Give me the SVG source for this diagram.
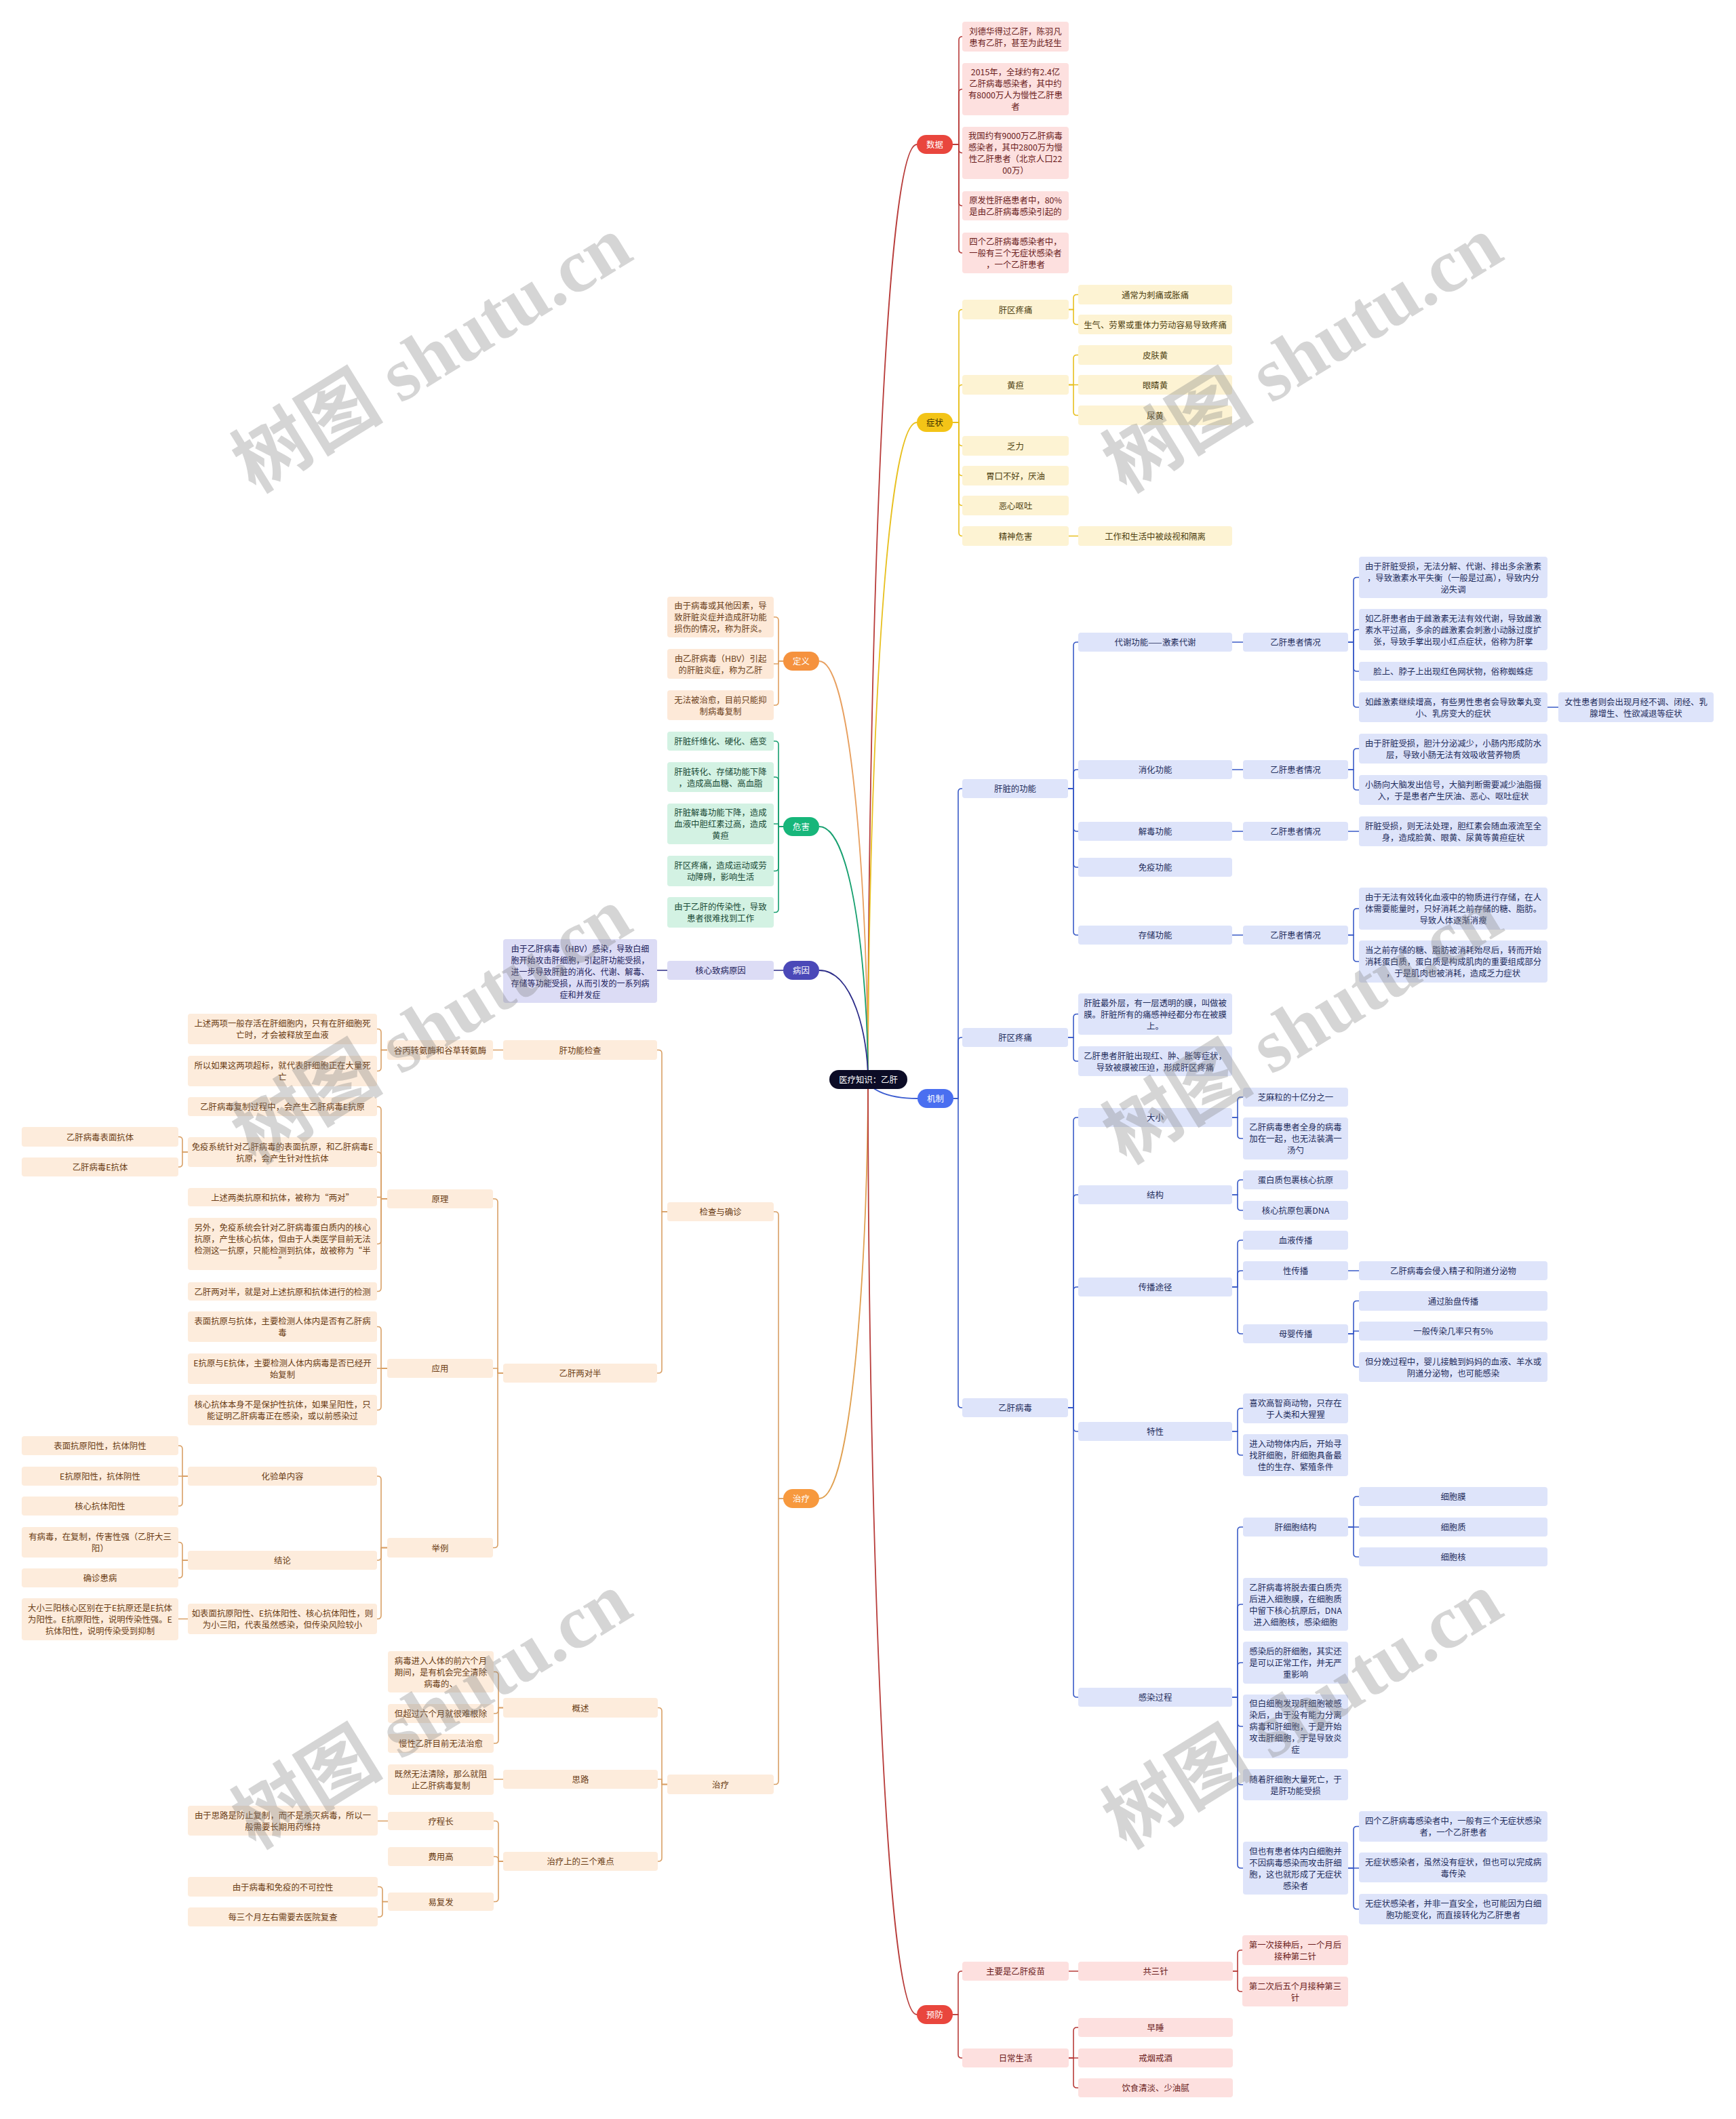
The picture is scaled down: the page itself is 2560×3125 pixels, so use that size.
<svg xmlns="http://www.w3.org/2000/svg" width="2560" height="3125" viewBox="0 0 2560 3125">
<style>
text{font-family:"Noto Sans CJK SC","Liberation Sans",sans-serif;font-size:12.4px;text-anchor:middle;dominant-baseline:central}
.kr rect{fill:#fde0df}.kr text{fill:#6a1c1c}
.ky rect{fill:#fdf3d3}.ky text{fill:#4d3f10}
.ko rect{fill:#fde9d8}.ko text{fill:#6b3f1a}
.kg rect{fill:#d3f2e3}.kg text{fill:#1a4a36}
.kp rect{fill:#dcdcf5}.kp text{fill:#20205a}
.kb rect{fill:#dee4fa}.kb text{fill:#1f2d5c}
.kt rect{fill:#fdecdc}.kt text{fill:#6a3c14}
.l1 text{fill:#fff}
.cx path{fill:none;stroke-width:1.6;stroke-linecap:round}
.rc path{fill:none;stroke-width:1.8}
.wm{font-family:"Liberation Serif","Noto Sans CJK SC",serif;font-size:112px;font-weight:bold;fill:#808080;fill-opacity:.33;text-anchor:start;dominant-baseline:auto}
</style>
<rect width="2560" height="3125" fill="#fff"/>

<!-- connectors -->
<g id="connectors">
<g class="rc">
<path stroke="#b83c3a" d="M1280 1592C1280 1040 1302 213 1352 213"/>
<path stroke="#e8c020" d="M1280 1592C1280 1204 1302 623 1352 623"/>
<path stroke="#e8a060" d="M1280 1592C1280 1345 1258 975 1208 975"/>
<path stroke="#18a070" d="M1280 1592C1280 1443 1258 1219 1208 1219"/>
<path stroke="#2c2c88" d="M1280 1592C1280 1528 1258 1431 1208 1431"/>
<path stroke="#3a5bd0" d="M1280 1592C1280 1603 1302 1620 1353 1620"/>
<path stroke="#e0a050" d="M1280 1592C1280 1839 1258 2210 1208 2210"/>
<path stroke="#b83c3a" d="M1280 1592C1280 2144 1302 2971 1352 2971"/>
</g>
<g class="cx" stroke="#b83c3a">
<path d="M1405 213H1414V59Q1414 54 1419 54"/>
<path d="M1405 213H1414V136.5Q1414 131.5 1419 131.5"/>
<path d="M1405 213H1414V220.5Q1414 225.5 1419 225.5"/>
<path d="M1405 213H1414V298.5Q1414 303.5 1419 303.5"/>
<path d="M1405 213H1414V368Q1414 373 1419 373"/>
<path d="M1405 2971H1413V2912Q1413 2907 1418 2907H1419"/>
<path d="M1405 2971H1413V3030Q1413 3035 1418 3035H1419"/>
<path d="M1576 2907H1590"/>
<path d="M1818 2907H1825V2881Q1825 2876 1830 2876H1832"/>
<path d="M1818 2907H1825V2932Q1825 2937 1830 2937H1832"/>
<path d="M1576 3035H1583V2995Q1583 2990 1588 2990H1590"/>
<path d="M1576 3035H1590"/>
<path d="M1576 3035H1583V3074Q1583 3079 1588 3079H1590"/>
</g>
<g class="cx" stroke="#e8c020">
<path d="M1405 623H1414V461.5Q1414 456.5 1419 456.5"/>
<path d="M1405 623H1414V572.5Q1414 567.5 1419 567.5"/>
<path d="M1405 623H1414V652.5Q1414 657.5 1419 657.5"/>
<path d="M1405 623H1414V696.5Q1414 701.5 1419 701.5"/>
<path d="M1405 623H1414V740.5Q1414 745.5 1419 745.5"/>
<path d="M1405 623H1414V785.5Q1414 790.5 1419 790.5"/>
<path d="M1576 456.5H1583V439.5Q1583 434.5 1588 434.5H1590"/>
<path d="M1576 456.5H1583V473.5Q1583 478.5 1588 478.5H1590"/>
<path d="M1576 567.5H1583V528.5Q1583 523.5 1588 523.5H1590"/>
<path d="M1576 567.5H1590"/>
<path d="M1576 567.5H1583V607.5Q1583 612.5 1588 612.5H1590"/>
<path d="M1576 790.5H1590"/>
</g>
<g class="cx" stroke="#3a5bc7">
<path d="M1406 1620H1413V1168Q1413 1163 1418 1163H1419"/>
<path d="M1406 1620H1413V1535Q1413 1530 1418 1530H1419"/>
<path d="M1406 1620H1413V2071Q1413 2076 1418 2076H1419"/>
<path d="M1575 1163H1583V952Q1583 947 1588 947H1590"/>
<path d="M1575 1163H1583V1140Q1583 1135 1588 1135H1590"/>
<path d="M1575 1163H1583V1221Q1583 1226 1588 1226H1590"/>
<path d="M1575 1163H1583V1274Q1583 1279 1588 1279H1590"/>
<path d="M1575 1163H1583V1374Q1583 1379 1588 1379H1590"/>
<path d="M1817 947H1833"/><path d="M1817 1135H1833"/><path d="M1817 1226H1833"/><path d="M1817 1379H1833"/>
<path d="M1988 947H1996V856.5Q1996 851.5 2001 851.5H2004"/>
<path d="M1988 947H1996V933.5Q1996 928.5 2001 928.5H2004"/>
<path d="M1988 947H1996V985Q1996 990 2001 990H2004"/>
<path d="M1988 947H1996V1038Q1996 1043 2001 1043H2004"/>
<path d="M2282 1043H2298"/>
<path d="M1988 1135H1996V1109Q1996 1104 2001 1104H2004"/>
<path d="M1988 1135H1996V1160Q1996 1165 2001 1165H2004"/>
<path d="M1988 1226H2004"/>
<path d="M1988 1379H1996V1345Q1996 1340 2001 1340H2004"/>
<path d="M1988 1379H1996V1413Q1996 1418 2001 1418H2004"/>
<path d="M1575 1530H1583V1500.5Q1583 1495.5 1588 1495.5H1590"/>
<path d="M1575 1530H1583V1560Q1583 1565 1588 1565H1590"/>
<path d="M1575 2076H1583V1653Q1583 1648 1588 1648H1590"/>
<path d="M1575 2076H1583V1767Q1583 1762 1588 1762H1590"/>
<path d="M1575 2076H1583V1903Q1583 1898 1588 1898H1590"/>
<path d="M1575 2076H1583V2106Q1583 2111 1588 2111H1590"/>
<path d="M1575 2076H1583V2498Q1583 2503 1588 2503H1590"/>
<path d="M1817 1648H1825V1623Q1825 1618 1830 1618H1833"/>
<path d="M1817 1648H1825V1674Q1825 1679 1830 1679H1833"/>
<path d="M1817 1762H1825V1745Q1825 1740 1830 1740H1833"/>
<path d="M1817 1762H1825V1780Q1825 1785 1830 1785H1833"/>
<path d="M1817 1898H1825V1834Q1825 1829 1830 1829H1833"/>
<path d="M1817 1898H1825V1879Q1825 1874 1830 1874H1833"/>
<path d="M1817 1898H1825V1962Q1825 1967 1830 1967H1833"/>
<path d="M1988 1874H2004"/>
<path d="M1988 1967H1996V1923.5Q1996 1918.5 2001 1918.5H2004"/>
<path d="M1988 1967H1996V1963H2004"/>
<path d="M1988 1967H1996V2011Q1996 2016 2001 2016H2004"/>
<path d="M1817 2111H1825V2082Q1825 2077 1830 2077H1833"/>
<path d="M1817 2111H1825V2141Q1825 2146 1830 2146H1833"/>
<path d="M1817 2503H1825V2257Q1825 2252 1830 2252H1833"/>
<path d="M1817 2503H1825V2371Q1825 2366 1830 2366H1833"/>
<path d="M1817 2503H1825V2457Q1825 2452 1830 2452H1833"/>
<path d="M1817 2503H1825V2541Q1825 2546 1830 2546H1833"/>
<path d="M1817 2503H1825V2627Q1825 2632 1830 2632H1833"/>
<path d="M1817 2503H1825V2750Q1825 2755 1830 2755H1833"/>
<path d="M1988 2252H1996V2212Q1996 2207 2001 2207H2004"/>
<path d="M1988 2252H2004"/>
<path d="M1988 2252H1996V2291Q1996 2296 2001 2296H2004"/>
<path d="M1988 2755H1996V2698.5Q1996 2693.5 2001 2693.5H2004"/>
<path d="M1988 2755H2004"/>
<path d="M1988 2755H1996V2810.5Q1996 2815.5 2001 2815.5H2004"/>
</g>
<g class="cx" stroke="#e0a060">
<path d="M1155 975H1148V915Q1148 910 1143 910H1141"/>
<path d="M1155 975H1148V979H1141"/>
<path d="M1155 975H1148V1035Q1148 1040 1143 1040H1141"/>
</g>
<g class="cx" stroke="#18a070">
<path d="M1155 1219H1148V1098Q1148 1093 1143 1093H1141"/>
<path d="M1155 1219H1148V1151Q1148 1146 1143 1146H1141"/>
<path d="M1155 1219H1148V1215H1141"/>
<path d="M1155 1219H1148V1279.5Q1148 1284.5 1143 1284.5H1141"/>
<path d="M1155 1219H1148V1340.5Q1148 1345.5 1143 1345.5H1141"/>
</g>
<g class="cx" stroke="#2c2c88">
<path d="M1155 1431H1141"/><path d="M984 1431H969"/>
</g>
<g class="cx" stroke="#d9a066">
<path d="M1155 2210H1148V1792Q1148 1787 1143 1787H1141"/>
<path d="M1155 2210H1148V2626.5Q1148 2631.5 1143 2631.5H1141"/>
<path d="M984 1787H976V1553.5Q976 1548.5 971 1548.5H969"/>
<path d="M984 1787H976V2020Q976 2025 971 2025H969"/>
<path d="M742 1548.5H727"/>
<path d="M571 1548.5H562V1522.5Q562 1517.5 557 1517.5H556"/>
<path d="M571 1548.5H562V1574.5Q562 1579.5 557 1579.5H556"/>
<path d="M742 2025H734V1773Q734 1768 729 1768H727"/>
<path d="M742 2025H734V2018H727"/>
<path d="M742 2025H734V2277.5Q734 2282.5 729 2282.5H727"/>
<path d="M571 1768H562V1637Q562 1632 557 1632H556"/>
<path d="M571 1768H562V1704Q562 1699 557 1699H556"/>
<path d="M571 1768H562V1765.5H556"/>
<path d="M571 1768H562V1829.5Q562 1834.5 557 1834.5H556"/>
<path d="M571 1768H562V1899.5Q562 1904.5 557 1904.5H556"/>
<path d="M277 1699H269V1681.5Q269 1676.5 264 1676.5H263"/>
<path d="M277 1699H269V1716Q269 1721 264 1721H263"/>
<path d="M571 2018H562V1961.5Q562 1956.5 557 1956.5H556"/>
<path d="M571 2018H556"/>
<path d="M571 2018H562V2074.5Q562 2079.5 557 2079.5H556"/>
<path d="M571 2282.5H562V2182Q562 2177 557 2177H556"/>
<path d="M571 2282.5H562V2296Q562 2301 557 2301H556"/>
<path d="M571 2282.5H562V2382.5Q562 2387.5 557 2387.5H556"/>
<path d="M277 2177H269V2137Q269 2132 264 2132H263"/>
<path d="M277 2177H263"/>
<path d="M277 2177H269V2216Q269 2221 264 2221H263"/>
<path d="M277 2301H269V2279.5Q269 2274.5 264 2274.5H263"/>
<path d="M277 2301H269V2322Q269 2327 264 2327H263"/>
<path d="M277 2387.5H263"/>
<path d="M984 2631.5H976V2523.5Q976 2518.5 971 2518.5H970"/>
<path d="M984 2631.5H976V2624H970"/>
<path d="M984 2631.5H976V2740Q976 2745 971 2745H970"/>
<path d="M742 2518.5H735V2470.5Q735 2465.5 730 2465.5H728"/>
<path d="M742 2518.5H735V2522Q735 2527 730 2527H728"/>
<path d="M742 2518.5H735V2566Q735 2571 730 2571H728"/>
<path d="M742 2624H728"/>
<path d="M742 2745H735V2690.5Q735 2685.5 730 2685.5H728"/>
<path d="M742 2745H735V2743Q735 2738 730 2738H728"/>
<path d="M742 2745H735V2799.5Q735 2804.5 730 2804.5H728"/>
<path d="M572 2685.5H557"/>
<path d="M572 2804.5H564V2787.5Q564 2782.5 559 2782.5H557"/>
<path d="M572 2804.5H564V2822Q564 2827 559 2827H557"/>
</g>
</g>

<!-- root -->
<g id="n-root"><rect x="1223" y="1578" width="115" height="28" rx="14" fill="#0c0c26"/><text x="1280.5" y="1592" fill="#fff">医疗知识：乙肝</text></g>

<!-- level 1 -->
<g id="n-shuju" class="l1"><rect x="1352" y="199" width="53" height="28" rx="14" fill="#e9463d"/><text x="1378.5" y="213">数据</text></g>
<g id="n-zhengzhuang"><rect x="1352" y="609" width="53" height="28" rx="14" fill="#f3c417"/><text x="1378.5" y="623" fill="#3a2e00">症状</text></g>
<g id="n-dingyi" class="l1"><rect x="1155" y="961" width="53" height="28" rx="14" fill="#f5923e"/><text x="1181.5" y="975">定义</text></g>
<g id="n-weihai" class="l1"><rect x="1155" y="1205" width="53" height="28" rx="14" fill="#17b67a"/><text x="1181.5" y="1219">危害</text></g>
<g id="n-bingyin" class="l1"><rect x="1155" y="1417" width="53" height="28" rx="14" fill="#4b49b8"/><text x="1181.5" y="1431">病因</text></g>
<g id="n-jizhi" class="l1"><rect x="1353" y="1606" width="53" height="28" rx="14" fill="#4a6ff0"/><text x="1379.5" y="1620">机制</text></g>
<g id="n-zhiliao" class="l1"><rect x="1155" y="2196" width="53" height="28" rx="14" fill="#f7993e"/><text x="1181.5" y="2210">治疗</text></g>
<g id="n-yufang" class="l1"><rect x="1352" y="2957" width="53" height="28" rx="14" fill="#e9463d"/><text x="1378.5" y="2971">预防</text></g>

<!-- 数据 -->
<g id="n-d1" class="kr"><rect x="1419" y="32" width="157" height="44" rx="4"/><text><tspan x="1497.5" y="45.5">刘德华得过乙肝，陈羽凡</tspan><tspan x="1497.5" y="62.5">患有乙肝，甚至为此轻生</tspan></text></g>
<g id="n-d2" class="kr"><rect x="1419" y="93" width="157" height="77" rx="4"/><text><tspan x="1497.5" y="106">2015年，全球约有2.4亿</tspan><tspan x="1497.5" y="123">乙肝病毒感染者，其中约</tspan><tspan x="1497.5" y="140">有8000万人为慢性乙肝患</tspan><tspan x="1497.5" y="157">者</tspan></text></g>
<g id="n-d3" class="kr"><rect x="1419" y="187" width="157" height="77" rx="4"/><text><tspan x="1497.5" y="200">我国约有9000万乙肝病毒</tspan><tspan x="1497.5" y="217">感染者，其中2800万为慢</tspan><tspan x="1497.5" y="234">性乙肝患者（北京人口22</tspan><tspan x="1497.5" y="251">00万）</tspan></text></g>
<g id="n-d4" class="kr"><rect x="1419" y="282" width="157" height="43" rx="4"/><text><tspan x="1497.5" y="295">原发性肝癌患者中，80%</tspan><tspan x="1497.5" y="312">是由乙肝病毒感染引起的</tspan></text></g>
<g id="n-d5" class="kr"><rect x="1419" y="343" width="157" height="60" rx="4"/><text><tspan x="1497.5" y="356">四个乙肝病毒感染者中，</tspan><tspan x="1497.5" y="373">一般有三个无症状感染者</tspan><tspan x="1497.5" y="390">，一个乙肝患者</tspan></text></g>

<!-- 症状 -->
<g id="n-s1" class="ky"><rect x="1419" y="442" width="157" height="29" rx="4"/><text x="1497.5" y="456.5">肝区疼痛</text></g>
<g id="n-s2" class="ky"><rect x="1419" y="553" width="157" height="29" rx="4"/><text x="1497.5" y="567.5">黄疸</text></g>
<g id="n-s3" class="ky"><rect x="1419" y="643" width="157" height="29" rx="4"/><text x="1497.5" y="657.5">乏力</text></g>
<g id="n-s4" class="ky"><rect x="1419" y="687" width="157" height="29" rx="4"/><text x="1497.5" y="701.5">胃口不好，厌油</text></g>
<g id="n-s5" class="ky"><rect x="1419" y="731" width="157" height="29" rx="4"/><text x="1497.5" y="745.5">恶心呕吐</text></g>
<g id="n-s6" class="ky"><rect x="1419" y="776" width="157" height="29" rx="4"/><text x="1497.5" y="790.5">精神危害</text></g>
<g id="n-s1a" class="ky"><rect x="1590" y="420" width="227" height="29" rx="4"/><text x="1703.5" y="434.5">通常为刺痛或胀痛</text></g>
<g id="n-s1b" class="ky"><rect x="1590" y="464" width="227" height="29" rx="4"/><text x="1703.5" y="478.5">生气、劳累或重体力劳动容易导致疼痛</text></g>
<g id="n-s2a" class="ky"><rect x="1590" y="509" width="227" height="29" rx="4"/><text x="1703.5" y="523.5">皮肤黄</text></g>
<g id="n-s2b" class="ky"><rect x="1590" y="553" width="227" height="29" rx="4"/><text x="1703.5" y="567.5">眼睛黄</text></g>
<g id="n-s2c" class="ky"><rect x="1590" y="598" width="227" height="29" rx="4"/><text x="1703.5" y="612.5">尿黄</text></g>
<g id="n-s6a" class="ky"><rect x="1590" y="776" width="227" height="29" rx="4"/><text x="1703.5" y="790.5">工作和生活中被歧视和隔离</text></g>

<!-- 定义 -->
<g id="n-dy1" class="ko"><rect x="984" y="880" width="157" height="60" rx="4"/><text><tspan x="1062.5" y="893">由于病毒或其他因素，导</tspan><tspan x="1062.5" y="910">致肝脏炎症并造成肝功能</tspan><tspan x="1062.5" y="927">损伤的情况，称为肝炎。</tspan></text></g>
<g id="n-dy2" class="ko"><rect x="984" y="957" width="157" height="44" rx="4"/><text><tspan x="1062.5" y="970.5">由乙肝病毒（HBV）引起</tspan><tspan x="1062.5" y="987.5">的肝脏炎症，称为乙肝</tspan></text></g>
<g id="n-dy3" class="ko"><rect x="984" y="1018" width="157" height="44" rx="4"/><text><tspan x="1062.5" y="1031.5">无法被治愈，目前只能抑</tspan><tspan x="1062.5" y="1048.5">制病毒复制</tspan></text></g>

<!-- 危害 -->
<g id="n-wh1" class="kg"><rect x="984" y="1079" width="157" height="28" rx="4"/><text x="1062.5" y="1093">肝脏纤维化、硬化、癌变</text></g>
<g id="n-wh2" class="kg"><rect x="984" y="1124" width="157" height="44" rx="4"/><text><tspan x="1062.5" y="1137.5">肝脏转化、存储功能下降</tspan><tspan x="1062.5" y="1154.5">，造成高血糖、高血脂</tspan></text></g>
<g id="n-wh3" class="kg"><rect x="984" y="1185" width="157" height="60" rx="4"/><text><tspan x="1062.5" y="1198">肝脏解毒功能下降，造成</tspan><tspan x="1062.5" y="1215">血液中胆红素过高，造成</tspan><tspan x="1062.5" y="1232">黄疸</tspan></text></g>
<g id="n-wh4" class="kg"><rect x="984" y="1262" width="157" height="45" rx="4"/><text><tspan x="1062.5" y="1276">肝区疼痛，造成运动或劳</tspan><tspan x="1062.5" y="1293">动障碍，影响生活</tspan></text></g>
<g id="n-wh5" class="kg"><rect x="984" y="1323" width="157" height="45" rx="4"/><text><tspan x="1062.5" y="1337">由于乙肝的传染性，导致</tspan><tspan x="1062.5" y="1354">患者很难找到工作</tspan></text></g>

<!-- 病因 -->
<g id="n-by1" class="kp"><rect x="984" y="1417" width="157" height="28" rx="4"/><text x="1062.5" y="1431">核心致病原因</text></g>
<g id="n-by2" class="kp"><rect x="742" y="1385" width="227" height="94" rx="4"/><text style="font-size:12px"><tspan x="855.5" y="1398">由于乙肝病毒（HBV）感染，导致白细</tspan><tspan x="855.5" y="1415">胞开始攻击肝细胞，引起肝功能受损，</tspan><tspan x="855.5" y="1432">进一步导致肝脏的消化、代谢、解毒、</tspan><tspan x="855.5" y="1449">存储等功能受损，从而引发的一系列病</tspan><tspan x="855.5" y="1466">症和并发症</tspan></text></g>

<!-- 机制 -->
<g id="n-m1" class="kb"><rect x="1419" y="1149" width="156" height="28" rx="4"/><text x="1497" y="1163">肝脏的功能</text></g>
<g id="n-m2" class="kb"><rect x="1419" y="1516" width="156" height="28" rx="4"/><text x="1497" y="1530">肝区疼痛</text></g>
<g id="n-m3" class="kb"><rect x="1419" y="2062" width="156" height="28" rx="4"/><text x="1497" y="2076">乙肝病毒</text></g>
<g id="n-m1a" class="kb"><rect x="1590" y="933" width="227" height="28" rx="4"/><text x="1703.5" y="947">代谢功能——激素代谢</text></g>
<g id="n-m1b" class="kb"><rect x="1590" y="1121" width="227" height="28" rx="4"/><text x="1703.5" y="1135">消化功能</text></g>
<g id="n-m1c" class="kb"><rect x="1590" y="1212" width="227" height="28" rx="4"/><text x="1703.5" y="1226">解毒功能</text></g>
<g id="n-m1d" class="kb"><rect x="1590" y="1265" width="227" height="28" rx="4"/><text x="1703.5" y="1279">免疫功能</text></g>
<g id="n-m1e" class="kb"><rect x="1590" y="1365" width="227" height="28" rx="4"/><text x="1703.5" y="1379">存储功能</text></g>
<g id="n-m1a1" class="kb"><rect x="1833" y="933" width="155" height="28" rx="4"/><text x="1910.5" y="947">乙肝患者情况</text></g>
<g id="n-m1b1" class="kb"><rect x="1833" y="1121" width="155" height="28" rx="4"/><text x="1910.5" y="1135">乙肝患者情况</text></g>
<g id="n-m1c1" class="kb"><rect x="1833" y="1212" width="155" height="28" rx="4"/><text x="1910.5" y="1226">乙肝患者情况</text></g>
<g id="n-m1e1" class="kb"><rect x="1833" y="1365" width="155" height="28" rx="4"/><text x="1910.5" y="1379">乙肝患者情况</text></g>
<g id="n-m1a1a" class="kb"><rect x="2004" y="821" width="278" height="61" rx="4"/><text><tspan x="2143" y="834.5">由于肝脏受损，无法分解、代谢、排出多余激素</tspan><tspan x="2143" y="851.5">，导致激素水平失衡（一般是过高），导致内分</tspan><tspan x="2143" y="868.5">泌失调</tspan></text></g>
<g id="n-m1a1b" class="kb"><rect x="2004" y="898" width="278" height="61" rx="4"/><text><tspan x="2143" y="911.5">如乙肝患者由于雌激素无法有效代谢，导致雌激</tspan><tspan x="2143" y="928.5">素水平过高，多余的雌激素会刺激小动脉过度扩</tspan><tspan x="2143" y="945.5">张，导致手掌出现小红点症状，俗称为肝掌</tspan></text></g>
<g id="n-m1a1c" class="kb"><rect x="2004" y="976" width="278" height="28" rx="4"/><text x="2143" y="990">脸上、脖子上出现红色网状物，俗称蜘蛛痣</text></g>
<g id="n-m1a1d" class="kb"><rect x="2004" y="1021" width="278" height="44" rx="4"/><text><tspan x="2143" y="1034.5">如雌激素继续增高，有些男性患者会导致睾丸变</tspan><tspan x="2143" y="1051.5">小、乳房变大的症状</tspan></text></g>
<g id="n-m1a1e" class="kb"><rect x="2298" y="1021" width="229" height="44" rx="4"/><text><tspan x="2412.5" y="1034.5">女性患者则会出现月经不调、闭经、乳</tspan><tspan x="2412.5" y="1051.5">腺增生、性欲减退等症状</tspan></text></g>
<g id="n-m1b1a" class="kb"><rect x="2004" y="1082" width="278" height="44" rx="4"/><text><tspan x="2143" y="1095.5">由于肝脏受损，胆汁分泌减少，小肠内形成防水</tspan><tspan x="2143" y="1112.5">层，导致小肠无法有效吸收营养物质</tspan></text></g>
<g id="n-m1b1b" class="kb"><rect x="2004" y="1143" width="278" height="44" rx="4"/><text><tspan x="2143" y="1156.5">小肠向大脑发出信号，大脑判断需要减少油脂摄</tspan><tspan x="2143" y="1173.5">入，于是患者产生厌油、恶心、呕吐症状</tspan></text></g>
<g id="n-m1c1a" class="kb"><rect x="2004" y="1204" width="278" height="44" rx="4"/><text><tspan x="2143" y="1217.5">肝脏受损，则无法处理，胆红素会随血液流至全</tspan><tspan x="2143" y="1234.5">身，造成脸黄、眼黄、尿黄等黄疸症状</tspan></text></g>
<g id="n-m1e1a" class="kb"><rect x="2004" y="1309" width="278" height="62" rx="4"/><text><tspan x="2143" y="1323">由于无法有效转化血液中的物质进行存储，在人</tspan><tspan x="2143" y="1340">体需要能量时，只好消耗之前存储的糖、脂肪。</tspan><tspan x="2143" y="1357">导致人体逐渐消瘦</tspan></text></g>
<g id="n-m1e1b" class="kb"><rect x="2004" y="1387" width="278" height="62" rx="4"/><text><tspan x="2143" y="1401">当之前存储的糖、脂肪被消耗殆尽后，转而开始</tspan><tspan x="2143" y="1418">消耗蛋白质，蛋白质是构成肌肉的重要组成部分</tspan><tspan x="2143" y="1435">，于是肌肉也被消耗，造成乏力症状</tspan></text></g>
<g id="n-m2a" class="kb"><rect x="1590" y="1465" width="227" height="61" rx="4"/><text><tspan x="1703.5" y="1478.5">肝脏最外层，有一层透明的膜，叫做被</tspan><tspan x="1703.5" y="1495.5">膜。肝脏所有的痛感神经都分布在被膜</tspan><tspan x="1703.5" y="1512.5">上。</tspan></text></g>
<g id="n-m2b" class="kb"><rect x="1590" y="1543" width="227" height="44" rx="4"/><text><tspan x="1703.5" y="1556.5">乙肝患者肝脏出现红、肿、胀等症状，</tspan><tspan x="1703.5" y="1573.5">导致被膜被压迫，形成肝区疼痛</tspan></text></g>
<g id="n-m3a" class="kb"><rect x="1590" y="1634" width="227" height="28" rx="4"/><text x="1703.5" y="1648">大小</text></g>
<g id="n-m3b" class="kb"><rect x="1590" y="1748" width="227" height="28" rx="4"/><text x="1703.5" y="1762">结构</text></g>
<g id="n-m3c" class="kb"><rect x="1590" y="1884" width="227" height="28" rx="4"/><text x="1703.5" y="1898">传播途径</text></g>
<g id="n-m3d" class="kb"><rect x="1590" y="2097" width="227" height="28" rx="4"/><text x="1703.5" y="2111">特性</text></g>
<g id="n-m3e" class="kb"><rect x="1590" y="2489" width="227" height="28" rx="4"/><text x="1703.5" y="2503">感染过程</text></g>
<g id="n-m3a1" class="kb"><rect x="1833" y="1604" width="155" height="28" rx="4"/><text x="1910.5" y="1618">芝麻粒的十亿分之一</text></g>
<g id="n-m3a2" class="kb"><rect x="1833" y="1648" width="155" height="62" rx="4"/><text><tspan x="1910.5" y="1662">乙肝病毒患者全身的病毒</tspan><tspan x="1910.5" y="1679">加在一起，也无法装满一</tspan><tspan x="1910.5" y="1696">汤勺</tspan></text></g>
<g id="n-m3b1" class="kb"><rect x="1833" y="1726" width="155" height="28" rx="4"/><text x="1910.5" y="1740">蛋白质包裹核心抗原</text></g>
<g id="n-m3b2" class="kb"><rect x="1833" y="1771" width="155" height="28" rx="4"/><text x="1910.5" y="1785">核心抗原包裹DNA</text></g>
<g id="n-m3c1" class="kb"><rect x="1833" y="1815" width="155" height="28" rx="4"/><text x="1910.5" y="1829">血液传播</text></g>
<g id="n-m3c2" class="kb"><rect x="1833" y="1860" width="155" height="28" rx="4"/><text x="1910.5" y="1874">性传播</text></g>
<g id="n-m3c3" class="kb"><rect x="1833" y="1953" width="155" height="28" rx="4"/><text x="1910.5" y="1967">母婴传播</text></g>
<g id="n-m3c2a" class="kb"><rect x="2004" y="1860" width="278" height="28" rx="4"/><text x="2143" y="1874">乙肝病毒会侵入精子和阴道分泌物</text></g>
<g id="n-m3c3a" class="kb"><rect x="2004" y="1904" width="278" height="29" rx="4"/><text x="2143" y="1918.5">通过胎盘传播</text></g>
<g id="n-m3c3b" class="kb"><rect x="2004" y="1949" width="278" height="28" rx="4"/><text x="2143" y="1963">一般传染几率只有5%</text></g>
<g id="n-m3c3c" class="kb"><rect x="2004" y="1994" width="278" height="44" rx="4"/><text><tspan x="2143" y="2007.5">但分娩过程中，婴儿接触到妈妈的血液、羊水或</tspan><tspan x="2143" y="2024.5">阴道分泌物，也可能感染</tspan></text></g>
<g id="n-m3d1" class="kb"><rect x="1833" y="2055" width="155" height="44" rx="4"/><text><tspan x="1910.5" y="2068.5">喜欢高智商动物，只存在</tspan><tspan x="1910.5" y="2085.5">于人类和大猩猩</tspan></text></g>
<g id="n-m3d2" class="kb"><rect x="1833" y="2115" width="155" height="62" rx="4"/><text><tspan x="1910.5" y="2129">进入动物体内后，开始寻</tspan><tspan x="1910.5" y="2146">找肝细胞，肝细胞具备最</tspan><tspan x="1910.5" y="2163">佳的生存、繁殖条件</tspan></text></g>
<g id="n-m3e1" class="kb"><rect x="1833" y="2238" width="155" height="28" rx="4"/><text x="1910.5" y="2252">肝细胞结构</text></g>
<g id="n-m3e1a" class="kb"><rect x="2004" y="2193" width="278" height="28" rx="4"/><text x="2143" y="2207">细胞膜</text></g>
<g id="n-m3e1b" class="kb"><rect x="2004" y="2238" width="278" height="28" rx="4"/><text x="2143" y="2252">细胞质</text></g>
<g id="n-m3e1c" class="kb"><rect x="2004" y="2282" width="278" height="28" rx="4"/><text x="2143" y="2296">细胞核</text></g>
<g id="n-m3e2" class="kb"><rect x="1833" y="2327" width="155" height="78" rx="4"/><text><tspan x="1910.5" y="2340.5">乙肝病毒将脱去蛋白质壳</tspan><tspan x="1910.5" y="2357.5">后进入细胞膜，在细胞质</tspan><tspan x="1910.5" y="2374.5">中留下核心抗原后，DNA</tspan><tspan x="1910.5" y="2391.5">进入细胞核，感染细胞</tspan></text></g>
<g id="n-m3e3" class="kb"><rect x="1833" y="2421" width="155" height="62" rx="4"/><text><tspan x="1910.5" y="2435">感染后的肝细胞，其实还</tspan><tspan x="1910.5" y="2452">是可以正常工作，并无严</tspan><tspan x="1910.5" y="2469">重影响</tspan></text></g>
<g id="n-m3e4" class="kb"><rect x="1833" y="2499" width="155" height="94" rx="4"/><text><tspan x="1910.5" y="2512">但白细胞发现肝细胞被感</tspan><tspan x="1910.5" y="2529">染后，由于没有能力分离</tspan><tspan x="1910.5" y="2546">病毒和肝细胞，于是开始</tspan><tspan x="1910.5" y="2563">攻击肝细胞，于是导致炎</tspan><tspan x="1910.5" y="2580">症</tspan></text></g>
<g id="n-m3e5" class="kb"><rect x="1833" y="2609" width="155" height="46" rx="4"/><text><tspan x="1910.5" y="2623.5">随着肝细胞大量死亡，于</tspan><tspan x="1910.5" y="2640.5">是肝功能受损</tspan></text></g>
<g id="n-m3e6" class="kb"><rect x="1833" y="2716" width="155" height="78" rx="4"/><text><tspan x="1910.5" y="2729.5">但也有患者体内白细胞并</tspan><tspan x="1910.5" y="2746.5">不因病毒感染而攻击肝细</tspan><tspan x="1910.5" y="2763.5">胞，这也就形成了无症状</tspan><tspan x="1910.5" y="2780.5">感染者</tspan></text></g>
<g id="n-m3e6a" class="kb"><rect x="2004" y="2671" width="278" height="45" rx="4"/><text><tspan x="2143" y="2685">四个乙肝病毒感染者中，一般有三个无症状感染</tspan><tspan x="2143" y="2702">者，一个乙肝患者</tspan></text></g>
<g id="n-m3e6b" class="kb"><rect x="2004" y="2732" width="278" height="44" rx="4"/><text><tspan x="2143" y="2745.5">无症状感染者，虽然没有症状，但也可以完成病</tspan><tspan x="2143" y="2762.5">毒传染</tspan></text></g>
<g id="n-m3e6c" class="kb"><rect x="2004" y="2793" width="278" height="45" rx="4"/><text><tspan x="2143" y="2807">无症状感染者，并非一直安全，也可能因为白细</tspan><tspan x="2143" y="2824">胞功能变化，而直接转化为乙肝患者</tspan></text></g>

<!-- 预防 -->
<g id="n-yf1" class="kr"><rect x="1419" y="2893" width="157" height="28" rx="4"/><text x="1497.5" y="2907">主要是乙肝疫苗</text></g>
<g id="n-yf2" class="kr"><rect x="1419" y="3021" width="157" height="28" rx="4"/><text x="1497.5" y="3035">日常生活</text></g>
<g id="n-yf1a" class="kr"><rect x="1590" y="2893" width="228" height="28" rx="4"/><text x="1704" y="2907">共三针</text></g>
<g id="n-yf1a1" class="kr"><rect x="1832" y="2854" width="156" height="44" rx="4"/><text><tspan x="1910" y="2867.5">第一次接种后，一个月后</tspan><tspan x="1910" y="2884.5">接种第二针</tspan></text></g>
<g id="n-yf1a2" class="kr"><rect x="1832" y="2915" width="156" height="44" rx="4"/><text><tspan x="1910" y="2928.5">第二次后五个月接种第三</tspan><tspan x="1910" y="2945.5">针</tspan></text></g>
<g id="n-yf2a" class="kr"><rect x="1590" y="2976" width="228" height="28" rx="4"/><text x="1704" y="2990">早睡</text></g>
<g id="n-yf2b" class="kr"><rect x="1590" y="3021" width="228" height="28" rx="4"/><text x="1704" y="3035">戒烟戒酒</text></g>
<g id="n-yf2c" class="kr"><rect x="1590" y="3065" width="228" height="28" rx="4"/><text x="1704" y="3079">饮食清淡、少油腻</text></g>

<!-- 治疗 -->
<g id="n-t1" class="kt"><rect x="984" y="1773" width="157" height="28" rx="4"/><text x="1062.5" y="1787">检查与确诊</text></g>
<g id="n-t2" class="kt"><rect x="984" y="2617" width="157" height="29" rx="4"/><text x="1062.5" y="2631.5">治疗</text></g>
<g id="n-t1a" class="kt"><rect x="742" y="1534" width="227" height="29" rx="4"/><text x="855.5" y="1548.5">肝功能检查</text></g>
<g id="n-t1b" class="kt"><rect x="742" y="2011" width="227" height="28" rx="4"/><text x="855.5" y="2025">乙肝两对半</text></g>
<g id="n-t1a1" class="kt"><rect x="571" y="1534" width="156" height="29" rx="4"/><text x="649" y="1548.5">谷丙转氨酶和谷草转氨酶</text></g>
<g id="n-t1a1a" class="kt"><rect x="277" y="1495" width="279" height="45" rx="4"/><text><tspan x="416.5" y="1509">上述两项一般存活在肝细胞内，只有在肝细胞死</tspan><tspan x="416.5" y="1526">亡时，才会被释放至血液</tspan></text></g>
<g id="n-t1a1b" class="kt"><rect x="277" y="1557" width="279" height="45" rx="4"/><text><tspan x="416.5" y="1571">所以如果这两项超标，就代表肝细胞正在大量死</tspan><tspan x="416.5" y="1588">亡</tspan></text></g>
<g id="n-t1b1" class="kt"><rect x="571" y="1754" width="156" height="28" rx="4"/><text x="649" y="1768">原理</text></g>
<g id="n-t1b2" class="kt"><rect x="571" y="2004" width="156" height="28" rx="4"/><text x="649" y="2018">应用</text></g>
<g id="n-t1b3" class="kt"><rect x="571" y="2268" width="156" height="29" rx="4"/><text x="649" y="2282.5">举例</text></g>
<g id="n-yl1" class="kt"><rect x="277" y="1618" width="279" height="28" rx="4"/><text x="416.5" y="1632">乙肝病毒复制过程中，会产生乙肝病毒E抗原</text></g>
<g id="n-yl2" class="kt"><rect x="277" y="1677" width="279" height="44" rx="4"/><text><tspan x="416.5" y="1690.5">免疫系统针对乙肝病毒的表面抗原，和乙肝病毒E</tspan><tspan x="416.5" y="1707.5">抗原，会产生针对性抗体</tspan></text></g>
<g id="n-yl3" class="kt"><rect x="277" y="1752" width="279" height="27" rx="4"/><text x="416.5" y="1765.5">上述两类抗原和抗体，被称为“两对”</text></g>
<g id="n-yl4" class="kt"><rect x="277" y="1796" width="279" height="77" rx="4"/><text><tspan x="416.5" y="1810">另外，免疫系统会针对乙肝病毒蛋白质内的核心</tspan><tspan x="416.5" y="1827">抗原，产生核心抗体，但由于人类医学目前无法</tspan><tspan x="416.5" y="1844">检测这一抗原，只能检测到抗体，故被称为“半</tspan><tspan x="416.5" y="1859">”</tspan></text></g>
<g id="n-yl5" class="kt"><rect x="277" y="1891" width="279" height="27" rx="4"/><text x="416.5" y="1904.5">乙肝两对半，就是对上述抗原和抗体进行的检测</text></g>
<g id="n-yl2a" class="kt"><rect x="32" y="1662" width="231" height="29" rx="4"/><text x="147.5" y="1676.5">乙肝病毒表面抗体</text></g>
<g id="n-yl2b" class="kt"><rect x="32" y="1707" width="231" height="28" rx="4"/><text x="147.5" y="1721">乙肝病毒E抗体</text></g>
<g id="n-yy1" class="kt"><rect x="277" y="1934" width="279" height="45" rx="4"/><text><tspan x="416.5" y="1948">表面抗原与抗体，主要检测人体内是否有乙肝病</tspan><tspan x="416.5" y="1965">毒</tspan></text></g>
<g id="n-yy2" class="kt"><rect x="277" y="1996" width="279" height="45" rx="4"/><text><tspan x="416.5" y="2010">E抗原与E抗体，主要检测人体内病毒是否已经开</tspan><tspan x="416.5" y="2027">始复制</tspan></text></g>
<g id="n-yy3" class="kt"><rect x="277" y="2057" width="279" height="45" rx="4"/><text><tspan x="416.5" y="2071">核心抗体本身不是保护性抗体，如果呈阳性，只</tspan><tspan x="416.5" y="2088">能证明乙肝病毒正在感染，或以前感染过</tspan></text></g>
<g id="n-jl1" class="kt"><rect x="277" y="2163" width="279" height="28" rx="4"/><text x="416.5" y="2177">化验单内容</text></g>
<g id="n-jl2" class="kt"><rect x="277" y="2287" width="279" height="28" rx="4"/><text x="416.5" y="2301">结论</text></g>
<g id="n-jl3" class="kt"><rect x="277" y="2365" width="279" height="45" rx="4"/><text><tspan x="416.5" y="2379">如表面抗原阳性、E抗体阳性、核心抗体阳性，则</tspan><tspan x="416.5" y="2396">为小三阳，代表虽然感染，但传染风险较小</tspan></text></g>
<g id="n-jl1a" class="kt"><rect x="32" y="2118" width="231" height="28" rx="4"/><text x="147.5" y="2132">表面抗原阳性，抗体阴性</text></g>
<g id="n-jl1b" class="kt"><rect x="32" y="2163" width="231" height="28" rx="4"/><text x="147.5" y="2177">E抗原阳性，抗体阴性</text></g>
<g id="n-jl1c" class="kt"><rect x="32" y="2207" width="231" height="28" rx="4"/><text x="147.5" y="2221">核心抗体阳性</text></g>
<g id="n-jl2a" class="kt"><rect x="32" y="2252" width="231" height="45" rx="4"/><text><tspan x="147.5" y="2266">有病毒，在复制，传害性强（乙肝大三</tspan><tspan x="147.5" y="2283">阳）</tspan></text></g>
<g id="n-jl2b" class="kt"><rect x="32" y="2313" width="231" height="28" rx="4"/><text x="147.5" y="2327">确诊患病</text></g>
<g id="n-jl3a" class="kt"><rect x="32" y="2357" width="231" height="62" rx="4"/><text><tspan x="147.5" y="2371">大小三阳核心区别在于E抗原还是E抗体</tspan><tspan x="147.5" y="2388">为阳性。E抗原阳性，说明传染性强。E</tspan><tspan x="147.5" y="2405">抗体阳性，说明传染受到抑制</tspan></text></g>
<g id="n-t2a" class="kt"><rect x="742" y="2504" width="228" height="29" rx="4"/><text x="856" y="2518.5">概述</text></g>
<g id="n-t2b" class="kt"><rect x="742" y="2610" width="228" height="28" rx="4"/><text x="856" y="2624">思路</text></g>
<g id="n-t2c" class="kt"><rect x="742" y="2731" width="228" height="28" rx="4"/><text x="856" y="2745">治疗上的三个难点</text></g>
<g id="n-t2a1" class="kt"><rect x="572" y="2435" width="156" height="61" rx="4"/><text><tspan x="650" y="2448.5">病毒进入人体的前六个月</tspan><tspan x="650" y="2465.5">期间，是有机会完全清除</tspan><tspan x="650" y="2482.5">病毒的、</tspan></text></g>
<g id="n-t2a2" class="kt"><rect x="572" y="2513" width="156" height="28" rx="4"/><text x="650" y="2527">但超过六个月就很难根除</text></g>
<g id="n-t2a3" class="kt"><rect x="572" y="2557" width="156" height="28" rx="4"/><text x="650" y="2571">慢性乙肝目前无法治愈</text></g>
<g id="n-t2b1" class="kt"><rect x="572" y="2602" width="156" height="45" rx="4"/><text><tspan x="650" y="2616">既然无法清除，那么就阻</tspan><tspan x="650" y="2633">止乙肝病毒复制</tspan></text></g>
<g id="n-t2c1" class="kt"><rect x="572" y="2672" width="156" height="27" rx="4"/><text x="650" y="2685.5">疗程长</text></g>
<g id="n-t2c2" class="kt"><rect x="572" y="2724" width="156" height="28" rx="4"/><text x="650" y="2738">费用高</text></g>
<g id="n-t2c3" class="kt"><rect x="572" y="2791" width="156" height="27" rx="4"/><text x="650" y="2804.5">易复发</text></g>
<g id="n-t2c1a" class="kt"><rect x="277" y="2663" width="280" height="44" rx="4"/><text><tspan x="417" y="2676.5">由于思路是防止复制，而不是杀灭病毒，所以一</tspan><tspan x="417" y="2693.5">般需要长期用药维持</tspan></text></g>
<g id="n-t2c3a" class="kt"><rect x="277" y="2768" width="280" height="29" rx="4"/><text x="417" y="2782.5">由于病毒和免疫的不可控性</text></g>
<g id="n-t2c3b" class="kt"><rect x="277" y="2813" width="280" height="28" rx="4"/><text x="417" y="2827">每三个月左右需要去医院复查</text></g>

<!-- watermarks -->
<g id="watermarks">
<text class="wm" transform="translate(376 728) rotate(-31.7)">树图 shutu.cn</text>
<text class="wm" transform="translate(1660 728) rotate(-31.7)">树图 shutu.cn</text>
<text class="wm" transform="translate(376 1718) rotate(-31.7)">树图 shutu.cn</text>
<text class="wm" transform="translate(1660 1718) rotate(-31.7)">树图 shutu.cn</text>
<text class="wm" transform="translate(376 2728) rotate(-31.7)">树图 shutu.cn</text>
<text class="wm" transform="translate(1660 2728) rotate(-31.7)">树图 shutu.cn</text>
</g>
</svg>
